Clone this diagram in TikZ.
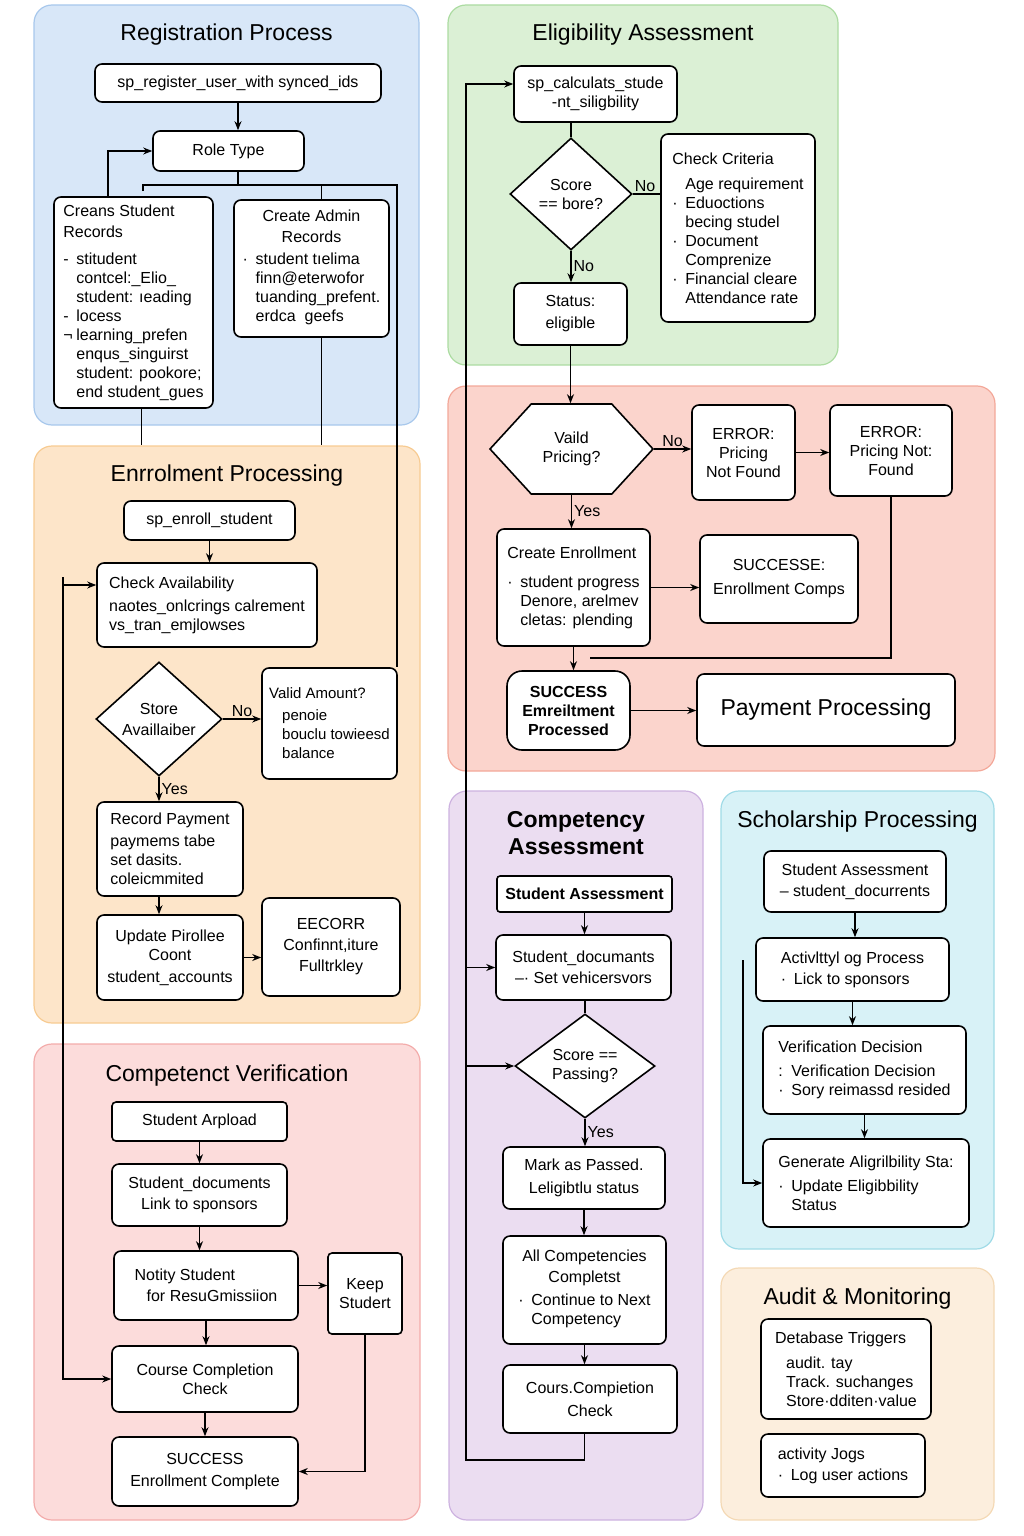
\documentclass[tikz,border=0pt]{standalone}
\usepackage{fontspec}
\setmainfont{Liberation Sans}
\usetikzlibrary{arrows.meta,shapes.geometric,shapes.symbols,positioning}

\definecolor{regfill}{HTML}{D8E7F8}
\definecolor{regline}{HTML}{A8C8EC}
\definecolor{elifill}{HTML}{DBF0D5}
\definecolor{eliline}{HTML}{ACDCA2}
\definecolor{prcfill}{HTML}{FBD4CC}
\definecolor{prcline}{HTML}{F3A899}
\definecolor{enrfill}{HTML}{FDE5C9}
\definecolor{enrline}{HTML}{F7CB92}
\definecolor{cvfill}{HTML}{FCDCDB}
\definecolor{cvline}{HTML}{F3ACAB}
\definecolor{cafill}{HTML}{EBDDF1}
\definecolor{caline}{HTML}{CDB2E0}
\definecolor{schfill}{HTML}{D8F2F7}
\definecolor{schline}{HTML}{A0DBE7}
\definecolor{audfill}{HTML}{FCEEDD}
\definecolor{audline}{HTML}{F4D9B5}

\newcommand{\body}{\fontsize{16}{19}\selectfont}
\newcommand{\bodysm}{\fontsize{15}{19}\selectfont}
\newcommand{\ttl}{\fontsize{23}{27}\selectfont}
\newcommand{\bl}[1]{\makebox[13pt][l]{#1}}

\tikzstyle{every path}+=[line width=1.3pt]
\tikzstyle{panel}=[rounded corners=18pt,line width=1.2pt,inner sep=0pt]
\tikzstyle{box}=[draw,fill=white,rounded corners=7pt,line width=1.6pt,font=\body]
\tikzstyle{head}=[font=\ttl,inner sep=3pt]
\tikzstyle{lbl}=[font=\body,inner sep=2pt]
\tikzset{
  >={Stealth[length=9pt,width=7pt]},
  sz/.style 2 args={minimum width=#1pt,minimum height=#2pt},
  cbox/.style 2 args={box,align=center,sz={#1}{#2}},
  lbox/.style 2 args={box,align=left,sz={#1}{#2}},
  decide/.style 2 args={draw,fill=white,diamond,line width=1.6pt,inner sep=0pt,
    align=center,font=\body,sz={#1}{#2}},
  hexa/.style 2 args={draw,fill=white,signal,signal to=west and east,
    signal pointer angle=95,line width=1.6pt,inner sep=0pt,align=center,font=\body,sz={#1}{#2}}
}

\newcommand{\drawdown}[2][\empty]{
	\foreach \a/\b in {#2}{
		\draw[->,#1] (\a.south) -- (\a.south |- \b.north);
	}
}
\newcommand{\drawright}[2][\empty]{
	\foreach \a/\b in {#2}{
		\draw[->,#1] (\a.east) -- (\a.east -| \b.west);
	}
}

\begin{document}
\begin{tikzpicture}[x=1pt,y=-1pt]
\useasboundingbox (0,0) rectangle (1024,1536);

% panels
\node[panel,sz={385}{420},draw=regline,fill=regfill] (pReg) at (226.5,215) {};
\node[panel,sz={390}{360},draw=eliline,fill=elifill] (pEli) at (643,185) {};
\node[panel,sz={547}{385},draw=prcline,fill=prcfill] (pPrc) at (721.5,578.5) {};
\node[panel,sz={386}{577},draw=enrline,fill=enrfill] (pEnr) at (227,734.5) {};
\node[panel,sz={386}{476},draw=cvline,fill=cvfill] (pCv) at (227,1282) {};
\node[panel,sz={254}{729},draw=caline,fill=cafill] (pCa) at (576,1155.5) {};
\node[panel,sz={273}{458},draw=schline,fill=schfill] (pSch) at (857.5,1020) {};
\node[panel,sz={273}{252},draw=audline,fill=audfill] (pAud) at (857.5,1394) {};

\node[head,below=16pt of pReg.north] (tReg) {Registration Process};
\node[head,below=16pt of pEli.north] (tEli) {Eligibility Assessment};
\node[head,below=16pt of pEnr.north] (tEnr) {Enrrolment Processing};
\node[head,below=18pt of pCv.north] (tCv) {Competenct Verification};
\node[head,font=\ttl\bfseries,align=center,below=17pt of pCa.north] (tCa) {Competency\\Assessment};
\node[head,below=17pt of pSch.north] (tSch) {Scholarship Processing};
\node[head,below=17pt of pAud.north] (tAud) {Audit \& Monitoring};

% registration
\node[cbox={286}{38}] (reg) at (238,83) {sp\_register\_user\_with synced\_ids};
\node[cbox={151}{40}] (role) at (228.5,151) {Role Type};
\node[lbox={159}{211}] (stu) at (133.5,302.5) {Creans Student\\[2pt]Records\\[8pt]
  \bl{-}stitudent\\\bl{}contcel:\_Elio\_\\\bl{}student: ıeading\\\bl{-}locess\\
  \bl{¬}learning\_prefen\\\bl{}enqus\_singuirst\\\bl{}student: pookore;\\\bl{}end student\_gues};
\node[cbox={155}{137}] (adm) at (311.5,268.5) {Create Admin\\[2pt]Records\\[7pt]
  \begin{tabular}{@{}l@{}}\bl{·}student tıelima\\\bl{}finn@eterwofor\\\bl{}tuanding\_prefent.\\\bl{}erdca\ \ geefs\end{tabular}};

% eligibility
\node[cbox={163}{56}] (calc) at (595.5,94) {sp\_calculats\_stude\\-nt\_siligbility};
\node[decide={122}{112}] (scr) at (571,194) {Score\\== bore?};
\node[lbox={154}{188}] (crit) at (738,228) {Check Criteria\\[6pt]\bl{}Age requirement\\\bl{·}Eduoctions\\
  \bl{}becing studel\\\bl{·}Document\\\bl{}Comprenize\\\bl{·}Financial cleare\\\bl{}Attendance rate};
\node[cbox={113}{62}] (sts) at (570.5,314) {Status:\\[3pt]eligible};

% pricing
\node[hexa={163}{90}] (prc) at (571.5,449) {Vaild\\Pricing?};
\node[cbox={103}{95}] (er1) at (743.5,452.5) {ERROR:\\Pricing\\Not Found};
\node[cbox={122}{91}] (er2) at (891,450.5) {ERROR:\\Pricing Not:\\Found};
\node[lbox={153}{117}] (cre) at (573.5,587.5) {Create Enrollment\\[10pt]\bl{·}student progress\\
  \bl{}Denore, arelmev\\\bl{}cletas: plending};
\node[cbox={158}{88}] (sce) at (779,579) {SUCCESSE:\\[5pt]Enrollment Comps};
\node[cbox={123}{79},rounded corners=15pt,font=\body\bfseries] (sok) at (568.5,710.5) {SUCCESS\\Emreiltment\\Processed};
\node[cbox={258}{72},font=\ttl] (pay) at (826,710) {Payment Processing};

% enrolment
\node[cbox={171}{39}] (enr) at (209.5,520.5) {sp\_enroll\_student};
\node[lbox={220}{84}] (avl) at (207,605) {Check Availability\\[4pt]naotes\_onlcrings calrement\\vs\_tran\_emjlowses};
\node[decide={126}{114}] (sto) at (159,719) {Store\\[2pt]Availlaiber};
\node[lbox={135}{111},font=\bodysm] (amt) at (329.5,723.5) {Valid Amount?\\[3pt]\bl{}penoie\\\bl{}bouclu towieesd\\\bl{}balance};
\node[lbox={146}{94}] (rec) at (170,849) {Record Payment\\[3pt]paymems tabe\\set dasits.\\coleicmmited};
\node[cbox={146}{85}] (upd) at (170,957.5) {Update Pirollee\\Coont\\[3pt]student\_accounts};
\node[cbox={138}{98}] (eco) at (331,947) {EECORR\\[2pt]Confinnt,iture\\[2pt]Fulltrkley};

% competenct verification
\node[cbox={175}{39},rounded corners=4pt] (upl) at (199.5,1121.5) {Student Arpload};
\node[cbox={175}{62}] (doc) at (199.5,1195) {Student\_documents\\[2pt]Link to sponsors};
\node[lbox={184}{69}] (ntf) at (206,1285.5) {Notity Student\\[2pt]\hspace*{12pt}for ResuGmissiion};
\node[cbox={74}{81},rounded corners=4pt] (kep) at (365,1293.5) {Keep\\Studert};
\node[cbox={186}{66}] (crs) at (205,1379) {Course Completion\\Check};
\node[cbox={186}{69}] (suc) at (205,1471.5) {SUCCESS\\[3pt]Enrollment Complete};

% competency assessment
\node[cbox={175}{36},rounded corners=3pt,font=\body\bfseries] (sas) at (584.5,894) {Student Assessment};
\node[cbox={175}{65}] (sdc) at (583.5,967.5) {Student\_documants\\[2pt]–· Set vehicersvors};
\node[decide={140}{104}] (sco) at (585,1066) {Score ==\\Passing?};
\node[cbox={162}{62}] (mrk) at (584,1178) {Mark as Passed.\\[4pt]Leligibtlu status};
\node[cbox={163}{108}] (alc) at (584.5,1290) {All Competencies\\[2pt]Completst\\[6pt]
  \begin{tabular}{@{}l@{}}\bl{·}Continue to Next\\\bl{}Competency\end{tabular}};
\node[cbox={174}{68}] (cou) at (590,1399) {Cours.Compietion\\[4pt]Check};

% scholarship
\node[cbox={182}{61}] (sa2) at (855,881.5) {Student Assessment\\[2pt]– student\_docurrents};
\node[lbox={193}{63}] (act) at (852.5,969.5) {Activlttyl og Process\\[2pt]\bl{·}Lick to sponsors};
\node[lbox={203}{88}] (ver) at (864.5,1070) {Verification Decision\\[5pt]\bl{:}Verification Decision\\\bl{·}Sory reimassd resided};
\node[lbox={206}{88}] (gen) at (866,1183) {Generate Aligrilbility Sta:\\[5pt]\bl{·}Update Eligibbility\\\bl{}Status};

% audit
\node[lbox={170}{100}] (dbt) at (846,1369) {Detabase Triggers\\[6pt]\hspace*{11pt}audit. tay\\
  \hspace*{11pt}Track. suchanges\\\hspace*{11pt}Store·dditen·value};
\node[lbox={164}{63}] (alg) at (843,1465.5) {activity Jogs\\[2pt]\bl{·}Log user actions};

% registration links
\coordinate (rolL) at (108,151);
\coordinate (fkL) at (143,185);
\coordinate (fkR) at (397,185);
\drawdown{reg/role}
\draw[->] (stu.north -| rolL) -- (rolL) -- (role.west);
\draw (reg.south |- role.south) -- (reg.south |- fkL);
\draw ([yshift=-6pt]fkL) -- (fkL) -- (fkR) -- (fkR |- amt.north);
\draw ([xshift=10pt]adm.north |- fkL) -- ([xshift=10pt]adm.north);
\draw ([xshift=8pt]stu.south) -- ([xshift=8pt]stu.south |- pEnr.north);
\draw ([xshift=10pt]adm.south) -- ([xshift=10pt]adm.south |- pEnr.north);

% eligibility links
\draw (scr.north |- calc.south) -- (scr.north);
\draw (scr.east) -- (scr.east -| crit.west) node[lbl,pos=0.45,above] {No};
\draw[->] (scr.south) -- (scr.south |- sts.north) node[lbl,midway,right] {No};
\drawdown{sts/prc}

% pricing links
\coordinate (er2end) at (590,658);
\draw[->] (prc.east) -- (prc.east -| er1.west) node[lbl,midway,above] {No};
\draw[->] (prc.south) -- (prc.south |- cre.north) node[lbl,midway,right] {Yes};
\drawright{er1/er2,cre/sce,sok/pay}
\drawdown{cre/sok}
\draw (er2.south) |- (er2end);

% enrolment links
\coordinate (lnA) at (63,577);
\coordinate (lnB) at (63,585);
\drawdown{enr/avl}
\draw[->] (sto.east) -- (sto.east -| amt.west) node[lbl,midway,above] {No};
\draw[->] (sto.south) -- (sto.south |- rec.north) node[lbl,midway,right] {Yes};
\draw[->] (sto.south |- rec.south) -- (sto.south |- upd.north);
\drawright{upd/eco}
\draw[->] (lnB) -- (lnB -| avl.west);
\draw[->] (lnA) |- (crs.west);

% competenct verification links
\drawdown{upl/doc,doc/ntf,ntf/crs,crs/suc}
\drawright{ntf/kep}
\draw[->] (kep.south) |- (suc.east);

% competency assessment links
\coordinate (lpB) at (466,1460);
\coordinate (lpT) at (466,84);
\drawdown{sas/sdc,mrk/alc,alc/cou}
\draw (sco.north |- sdc.south) -- (sco.north);
\draw[->] (sco.south) -- (sco.south |- mrk.north) node[lbl,midway,right] {Yes};
\draw[->] (alc.south |- cou.south) |- (lpB) -- (lpT) -- (lpT -| calc.west);
\draw[->] (lpB |- sdc.west) -- (sdc.west);
\draw[->] (lpB |- sco.west) -- (sco.west);

% scholarship links
\coordinate (scL) at (743,960);
\drawdown{sa2/act,act/ver,ver/gen}
\draw[->] (scL) |- (gen.west);
\end{tikzpicture}
\end{document}
